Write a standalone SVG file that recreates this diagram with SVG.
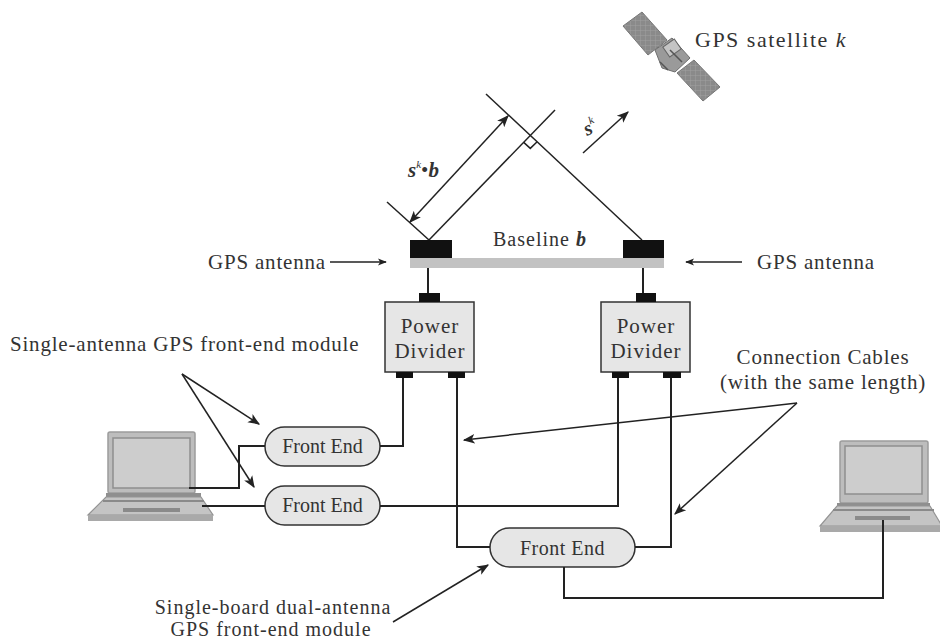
<svg xmlns="http://www.w3.org/2000/svg" width="940" height="640" viewBox="0 0 940 640">
  <defs>
    <marker id="arr" viewBox="0 0 10 10" refX="9" refY="5" markerWidth="9" markerHeight="9" markerUnits="userSpaceOnUse" orient="auto-start-reverse">
      <path d="M0,1 L10,5 L0,9 L2.5,5 Z" fill="#222"/>
    </marker>
    <marker id="arrL" viewBox="0 0 10 10" refX="9" refY="5" markerWidth="12" markerHeight="12" markerUnits="userSpaceOnUse" orient="auto-start-reverse">
      <path d="M0,1 L10,5 L0,9 L2.5,5 Z" fill="#222"/>
    </marker>
    <pattern id="cells" width="5" height="5" patternUnits="userSpaceOnUse">
      <rect width="5" height="5" fill="#8a8a8a"/>
      <path d="M0,0 H5 M0,0 V5" stroke="#a5a5a5" stroke-width="0.8"/>
    </pattern>
  </defs>
  <style>
    text { font-family: "Liberation Serif", "Times New Roman", serif; fill: #333; }
    .lbl { font-size: 21px; letter-spacing: 0.8px; }
    .sm { font-size: 20px; letter-spacing: 1px; }
    .box { font-size: 21px; letter-spacing: 1px; }
    .fe { font-size: 20px; }
    .ln { fill: none; stroke: #222; stroke-width: 1.5; }
    .cable { fill: none; stroke: #222; stroke-width: 2; }
    .blk { fill: #111; }
    .pd { fill: #e6e6e6; stroke: #333; stroke-width: 1.5; }
    .pill { fill: #e6e6e6; stroke: #333; stroke-width: 1.5; }
    .scr { fill: #bdbdbd; stroke: #9c9c9c; stroke-width: 1.5; }
    .scrIn { fill: #cdcdcd; stroke: #8e8e8e; stroke-width: 1.5; }
    .deck { fill: #c4c4c4; stroke: #949494; stroke-width: 1.2; }
    .bi { font-weight: bold; font-style: italic; }
  </style>

  <rect width="940" height="640" fill="#fff"/>

  <!-- satellite -->
  <g id="satellite">
    <polygon points="623,26 642,12 667,40 648,55" fill="url(#cells)" stroke="#777" stroke-width="1"/>
    <polygon points="677,73 694,60 720,87 703,101" fill="url(#cells)" stroke="#777" stroke-width="1"/>
    <polygon points="655,50 672,38 690,58 675,72 662,68" fill="#9a9a9a" stroke="#6e6e6e" stroke-width="1"/>
    <rect x="665" y="42" width="14" height="12" fill="#c4c4c4" stroke="#666" stroke-width="1" transform="rotate(-35 672 48)"/>
    <path d="M660,62 L668,70 M670,50 L682,62" stroke="#555" stroke-width="1.5"/>
    <text x="695" y="47" font-size="22" letter-spacing="1.5">GPS satellite <tspan font-style="italic">k</tspan></text>
  </g>

  <!-- geometry: wavefronts, projection and direction vector -->
  <g id="geometry">
    <line class="ln" x1="429" y1="240" x2="555" y2="110"/>
    <line class="ln" x1="642" y1="240" x2="486" y2="94"/>
    <line class="ln" x1="429" y1="240" x2="387" y2="202"/>
    <path class="ln" d="M536.9,142.0 L530.3,148.4 L523.7,142.4"/>
    <line class="ln" x1="410" y1="222" x2="508" y2="116" marker-start="url(#arrL)" marker-end="url(#arrL)"/>
    <line class="ln" x1="583" y1="153" x2="628" y2="112" marker-end="url(#arrL)"/>
    <text x="408" y="177" font-size="21"><tspan class="bi">s</tspan><tspan font-size="11" dy="-9" font-style="italic">k</tspan><tspan dy="9">•</tspan><tspan class="bi">b</tspan></text>
    <text x="584" y="134" font-size="20" transform="rotate(-25 590 128)"><tspan class="bi">s</tspan><tspan font-size="11" dy="-9" font-style="italic">k</tspan></text>
  </g>

  <!-- antennas on the baseline -->
  <g id="baseline">
    <rect x="410" y="258" width="254" height="10" fill="#c2c2c2"/>
    <rect class="blk" x="410" y="240" width="42" height="18"/>
    <rect class="blk" x="623" y="240" width="41" height="18"/>
    <text x="493" y="246" font-size="20" letter-spacing="1">Baseline <tspan class="bi">b</tspan></text>
  </g>

  <g id="antenna-label-left">
    <text class="lbl" x="208" y="269">GPS antenna</text>
    <line class="ln" x1="330" y1="262" x2="386" y2="262" marker-end="url(#arr)"/>
  </g>
  <g id="antenna-label-right">
    <text class="lbl" x="757" y="269">GPS antenna</text>
    <line class="ln" x1="742" y1="262" x2="686" y2="262" marker-end="url(#arr)"/>
  </g>

  <!-- power dividers -->
  <g id="divider-left">
    <rect class="pd" x="385" y="302" width="89" height="70"/>
    <rect class="blk" x="419" y="293" width="21" height="9"/>
    <rect class="blk" x="396" y="372" width="17" height="6"/>
    <rect class="blk" x="448" y="372" width="17" height="6"/>
    <text class="box" x="430" y="333" text-anchor="middle">Power</text>
    <text class="box" x="430" y="358" text-anchor="middle">Divider</text>
  </g>
  <g id="divider-right">
    <rect class="pd" x="601" y="302" width="89" height="70"/>
    <rect class="blk" x="636" y="293" width="20" height="9"/>
    <rect class="blk" x="612" y="372" width="17" height="6"/>
    <rect class="blk" x="663" y="372" width="18" height="6"/>
    <text class="box" x="646" y="333" text-anchor="middle">Power</text>
    <text class="box" x="646" y="358" text-anchor="middle">Divider</text>
  </g>

  <!-- front ends -->
  <g id="frontend-1">
    <rect class="pill" x="265" y="427" width="115" height="39" rx="19.5"/>
    <text class="fe" x="322.5" y="453" text-anchor="middle">Front End</text>
  </g>
  <g id="frontend-2">
    <rect class="pill" x="265" y="486" width="115" height="39" rx="19.5"/>
    <text class="fe" x="322.5" y="512" text-anchor="middle">Front End</text>
  </g>
  <g id="frontend-dual">
    <rect class="pill" x="490" y="528" width="145" height="39" rx="19.5"/>
    <text class="fe" x="562.5" y="555" text-anchor="middle" letter-spacing="0.5">Front End</text>
  </g>

  <!-- laptops -->
  <g id="laptop-left">
    <rect class="scr" x="108" y="432" width="87" height="61" rx="2"/>
    <rect class="scrIn" x="113" y="438" width="77" height="50"/>
    <rect x="106" y="493" width="95" height="4" fill="#8f8f8f"/>
    <polygon class="deck" points="106,497 201,497 213,515 88,515"/>
    <line x1="103" y1="501" x2="204" y2="501" stroke="#8a8a8a" stroke-width="2"/>
    <rect x="123" y="508" width="57" height="4" fill="#8a8a8a"/>
    <rect x="88" y="515" width="125" height="6" fill="#a9a9a9"/>
  </g>
  <g id="laptop-right">
    <rect class="scr" x="840" y="441" width="88" height="62" rx="2"/>
    <rect class="scrIn" x="845" y="446" width="77" height="48"/>
    <rect x="837" y="503" width="93" height="3" fill="#8f8f8f"/>
    <polygon class="deck" points="837,506 930,506 942,526 820,526"/>
    <line x1="833" y1="510" x2="934" y2="510" stroke="#8a8a8a" stroke-width="2"/>
    <rect x="855" y="516" width="55" height="4" fill="#8a8a8a"/>
    <rect x="820" y="526" width="122" height="6" fill="#a9a9a9"/>
  </g>

  <!-- cables -->
  <g id="connectors">
    <path class="cable" d="M428,268 V293"/>
    <path class="cable" d="M643,268 V293"/>
    <path class="cable" d="M380,446 H403 V378"/>
    <path class="cable" d="M265,446 H239 V488 H189"/>
    <path class="cable" d="M202,506 H265"/>
    <path class="cable" d="M380,506 H618 V378"/>
    <path class="cable" d="M490,547 H457 V378"/>
    <path class="cable" d="M635,547 H671 V378"/>
    <path class="cable" d="M564,567 V598 H883 V520"/>
  </g>

  <!-- annotations -->
  <g id="note-single">
    <text class="lbl" x="10" y="351">Single-antenna GPS front-end module</text>
    <line class="ln" x1="182" y1="374" x2="259" y2="424" marker-end="url(#arrL)"/>
    <line class="ln" x1="182" y1="374" x2="254" y2="487" marker-end="url(#arrL)"/>
  </g>
  <g id="note-cables">
    <text class="lbl" x="823" y="364" text-anchor="middle">Connection Cables</text>
    <text class="lbl" x="823" y="389" text-anchor="middle">(with the same length)</text>
    <line class="ln" x1="797" y1="403" x2="464" y2="440" marker-end="url(#arrL)"/>
    <line class="ln" x1="797" y1="403" x2="675" y2="514" marker-end="url(#arrL)"/>
  </g>
  <g id="note-dual">
    <text class="sm" x="273" y="614" text-anchor="middle">Single-board dual-antenna</text>
    <text class="sm" x="271" y="636" text-anchor="middle">GPS front-end module</text>
    <line class="ln" x1="393" y1="622" x2="488" y2="565" marker-end="url(#arrL)"/>
  </g>
</svg>
